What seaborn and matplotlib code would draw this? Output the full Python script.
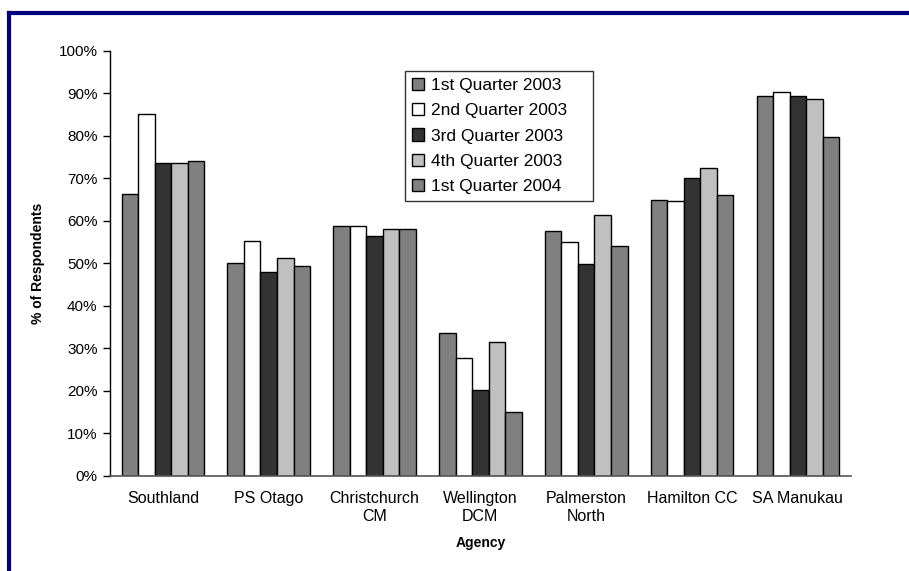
import numpy as np
import pandas as pd
import matplotlib
matplotlib.use("Agg")
import matplotlib.pyplot as plt
from matplotlib.lines import Line2D
from matplotlib.ticker import PercentFormatter, FixedLocator
import seaborn as sns

sns.set_style("white")
plt.rcParams['font.family'] = ['Liberation Sans', 'DejaVu Sans']
plt.rcParams['text.color'] = 'black'
plt.rcParams['xtick.color'] = 'black'
plt.rcParams['ytick.color'] = 'black'
plt.rcParams['axes.labelcolor'] = 'black'

agencies = ["Southland", "PS Otago", "Christchurch\nCM", "Wellington\nDCM",
            "Palmerston\nNorth", "Hamilton CC", "SA Manukau"]
quarters = ["1st Quarter 2003", "2nd Quarter 2003", "3rd Quarter 2003",
            "4th Quarter 2003", "1st Quarter 2004"]

q1_2003 = [66.3, 50.0, 58.9, 33.7, 57.6, 64.9, 89.5]
q2_2003 = [85.2, 55.3, 58.9, 27.8, 55.1, 64.8, 90.3]
q3_2003 = [73.7, 48.0, 56.5, 20.3, 49.9, 70.0, 89.3]
q4_2003 = [73.7, 51.4, 58.1, 31.5, 61.3, 72.5, 88.8]
q1_2004 = [74.0, 49.5, 58.1, 15.0, 54.0, 66.0, 79.7]

colors = ["#808080", "#FFFFFF", "#333333", "#C0C0C0", "#808080"]

series = [q1_2003, q2_2003, q3_2003, q4_2003, q1_2004]
rows = []
for q, vals in zip(quarters, series):
    for a, v in zip(agencies, vals):
        rows.append({"Agency": a, "Quarter": q, "Pct": v})
df = pd.DataFrame(rows)

fig = plt.figure(figsize=(9.09, 5.71), dpi=100)
ax = fig.add_axes([0.121, 0.1664, 0.815, 0.7443])

sns.barplot(data=df, x="Agency", y="Pct", hue="Quarter", order=agencies,
            hue_order=quarters, palette=dict(zip(quarters, colors)),
            width=0.78, edgecolor="black", linewidth=1.0, saturation=1,
            ax=ax)

ax.set_xlim(-0.5, len(agencies) - 0.5)
ax.set_ylim(0, 100)
ax.yaxis.set_major_locator(FixedLocator(np.arange(0, 101, 10)))
ax.yaxis.set_major_formatter(PercentFormatter(xmax=100, decimals=0))

ax.tick_params(axis="x", which="major", length=0, pad=11, labelsize=11.5)
ax.set_xticks(np.arange(-0.5, len(agencies), 1.0), minor=True)
ax.tick_params(axis="x", which="minor", length=5, width=1, color="#555555")
ax.tick_params(axis="y", length=5, width=1, color="black", labelsize=11,
               left=True, pad=4)

for s in ["top", "right"]:
    ax.spines[s].set_visible(False)
ax.spines["left"].set_color("black")
ax.spines["bottom"].set_color("#555555")
ax.spines["left"].set_linewidth(1)
ax.spines["bottom"].set_linewidth(1.2)

ax.set_xlabel("Agency", fontsize=10, fontweight="bold", labelpad=9)
ax.set_ylabel("% of Respondents", fontsize=10, fontweight="bold", labelpad=10)

leg = ax.legend(loc="upper left", bbox_to_anchor=(0.398, 0.653, 0.254, 0.3),
                mode="expand", frameon=True, fancybox=False,
                edgecolor="black", fontsize=12.5, handlelength=0.7,
                handleheight=0.7, handletextpad=0.4, labelspacing=0.58,
                borderpad=0.4, borderaxespad=0)
leg.get_frame().set_linewidth(1)
for h in leg.legend_handles:
    h.set_edgecolor("black")
    h.set_linewidth(1)

# blue frame
top_y = 1 - 13 / 571
left_x = 9 / 909
fig.add_artist(Line2D([left_x, left_x], [0, top_y], color="#000080",
                      linewidth=3, transform=fig.transFigure,
                      solid_capstyle="projecting"))
fig.add_artist(Line2D([left_x, 1.0], [top_y, top_y], color="#000080",
                      linewidth=3, transform=fig.transFigure,
                      solid_capstyle="projecting"))

fig.savefig("out.png", dpi=100)
